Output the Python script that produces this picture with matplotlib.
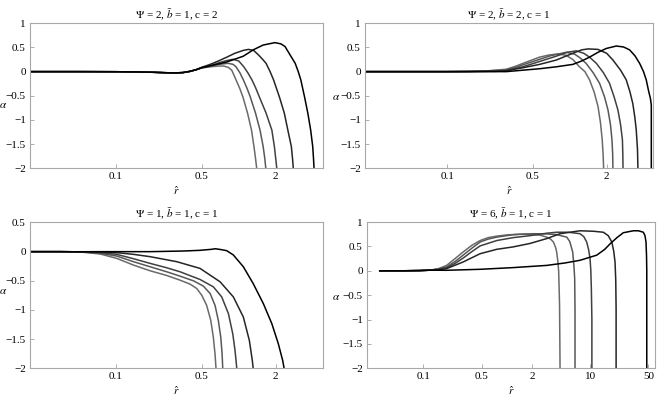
import matplotlib
matplotlib.use('Agg')
import matplotlib.pyplot as plt
from matplotlib.ticker import NullLocator

plt.rcParams['font.family'] = ['Liberation Serif', 'DejaVu Serif']
plt.rcParams['mathtext.fontset'] = 'stix'

# ---------------- data ----------------
titles = [r'$\Psi$ = 2, $\bar{b}$ = 1, c = 2',
          r'$\Psi$ = 2, $\bar{b}$ = 2, c = 1',
          r'$\Psi$ = 1, $\bar{b}$ = 1, c = 1',
          r'$\Psi$ = 6, $\bar{b}$ = 1, c = 1']

# Panel 1 (Psi=2, b=1, c=2)
p1_r0 = [0.02, 0.05, 0.1, 0.15, 0.2, 0.25, 0.3, 0.35, 0.4, 0.45]
p1_a0 = [0, 0, -0.002, -0.006, -0.013, -0.022, -0.027, -0.02, 0.005, 0.04]
p1_r = [
    [0.5, 0.585, 0.68, 0.75, 0.82, 0.877, 0.95, 1.02, 1.08, 1.18, 1.27, 1.33, 1.37, 1.40],
    [0.5, 0.585, 0.683, 0.82, 0.90, 0.95, 1.02, 1.09, 1.17, 1.24, 1.37, 1.49, 1.58, 1.63, 1.66],
    [0.5, 0.585, 0.683, 0.80, 0.90, 1.0, 1.10, 1.19, 1.28, 1.37, 1.47, 1.67, 1.86, 1.95, 2.0, 2.04],
    [0.5, 0.585, 0.683, 0.80, 0.93, 1.09, 1.2, 1.32, 1.45, 1.57, 1.67, 1.80, 1.92, 2.14, 2.35, 2.51, 2.68, 2.74, 2.78],
    [0.5, 0.585, 0.80, 1.09, 1.31, 1.58, 1.97, 2.2, 2.38, 2.62, 2.88, 3.05, 3.2, 3.43, 3.65, 3.85, 4.0, 4.06, 4.10],
]
p1_a = [
    [0.075, 0.10, 0.115, 0.117, 0.09, 0.03, -0.17, -0.35, -0.52, -0.86, -1.21, -1.55, -1.8, -2.0],
    [0.08, 0.115, 0.15, 0.172, 0.15, 0.10, -0.02, -0.17, -0.35, -0.52, -0.86, -1.21, -1.55, -1.8, -2.0],
    [0.085, 0.12, 0.18, 0.23, 0.255, 0.22, 0.10, -0.03, -0.17, -0.33, -0.52, -0.86, -1.21, -1.55, -1.8, -2.0],
    [0.09, 0.15, 0.22, 0.30, 0.38, 0.44, 0.46, 0.44, 0.344, 0.25, 0.17, 0.0, -0.17, -0.52, -0.86, -1.21, -1.55, -1.8, -2.0],
    [0.08, 0.12, 0.20, 0.32, 0.45, 0.55, 0.60, 0.575, 0.52, 0.344, 0.172, 0.0, -0.17, -0.52, -0.86, -1.21, -1.55, -1.8, -2.0],
]

# Panel 2 (Psi=2, b=2, c=1)
p2_r0 = [0.02, 0.05, 0.1, 0.15]
p2_a0 = [0, 0, 0, 0.002]
p2_r = [
    [0.2, 0.25, 0.303, 0.36, 0.414, 0.49, 0.567, 0.68, 0.80, 0.93, 1.06, 1.2, 1.33, 1.45, 1.58, 1.70, 1.78, 1.84, 1.87, 1.89],
    [0.2, 0.25, 0.303, 0.36, 0.414, 0.567, 0.70, 0.935, 1.1, 1.22, 1.36, 1.55, 1.75, 1.92, 2.05, 2.15, 2.21, 2.24, 2.25],
    [0.2, 0.25, 0.303, 0.414, 0.567, 0.776, 0.95, 1.13, 1.3, 1.45, 1.65, 1.88, 2.11, 2.3, 2.47, 2.6, 2.69, 2.71, 2.72],
    [0.25, 0.303, 0.414, 0.567, 0.776, 1.06, 1.25, 1.41, 1.7, 2.0, 2.25, 2.6, 2.89, 3.1, 3.27, 3.4, 3.49, 3.57, 3.60],
    [0.303, 0.414, 0.567, 0.776, 1.06, 1.25, 1.45, 1.7, 1.99, 2.40, 2.75, 3.08, 3.4, 3.72, 4.0, 4.21, 4.4, 4.55, 4.63, 4.63],
]
p2_a = [
    [0.012, 0.03, 0.05, 0.11, 0.17, 0.24, 0.30, 0.345, 0.365, 0.34, 0.25, 0.10, 0.0, -0.17, -0.42, -0.72, -1.05, -1.41, -1.7, -2.0],
    [0.01, 0.025, 0.035, 0.085, 0.14, 0.255, 0.33, 0.40, 0.36, 0.28, 0.17, -0.02, -0.24, -0.52, -0.79, -1.1, -1.41, -1.7, -2.0],
    [0.005, 0.012, 0.02, 0.10, 0.21, 0.32, 0.40, 0.43, 0.38, 0.30, 0.17, -0.02, -0.24, -0.52, -0.79, -1.1, -1.41, -1.7, -2.0],
    [0.005, 0.02, 0.08, 0.15, 0.24, 0.38, 0.45, 0.47, 0.46, 0.38, 0.24, 0.03, -0.17, -0.42, -0.66, -0.95, -1.21, -1.6, -2.0],
    [0.0, 0.03, 0.06, 0.10, 0.15, 0.22, 0.30, 0.40, 0.48, 0.53, 0.51, 0.45, 0.33, 0.17, 0.0, -0.17, -0.4, -0.55, -0.69, -2.0],
]

# Panel 3 (Psi=1, b=1, c=1)
p3_r0 = [0.02, 0.035, 0.045]
p3_a0 = [0, 0, -0.002]
p3_r = [
    [0.0544, 0.0745, 0.1016, 0.139, 0.19, 0.259, 0.333, 0.402, 0.455, 0.50, 0.548, 0.592, 0.621, 0.641, 0.653],
    [0.0544, 0.0745, 0.1016, 0.139, 0.19, 0.259, 0.333, 0.428, 0.515, 0.585, 0.641, 0.682, 0.714, 0.732, 0.741],
    [0.0544, 0.0745, 0.1016, 0.139, 0.19, 0.259, 0.333, 0.484, 0.621, 0.727, 0.824, 0.894, 0.933, 0.964],
    [0.0745, 0.1016, 0.139, 0.19, 0.313, 0.484, 0.705, 0.904, 1.09, 1.22, 1.29, 1.31],
    [0.0745, 0.19, 0.354, 0.484, 0.60, 0.645, 0.72, 0.798, 0.904, 1.09, 1.31, 1.585, 1.86, 2.10, 2.28, 2.34],
]
p3_a = [
    [-0.011, -0.04, -0.115, -0.23, -0.328, -0.408, -0.489, -0.557, -0.632, -0.747, -0.92, -1.178, -1.466, -1.753, -2.0],
    [-0.006, -0.029, -0.075, -0.172, -0.259, -0.345, -0.42, -0.50, -0.59, -0.718, -0.92, -1.178, -1.466, -1.753, -2.0],
    [-0.006, -0.017, -0.046, -0.121, -0.201, -0.276, -0.345, -0.477, -0.603, -0.776, -1.063, -1.408, -1.695, -2.0],
    [-0.006, -0.017, -0.046, -0.086, -0.172, -0.287, -0.517, -0.776, -1.121, -1.523, -1.868, -2.0],
    [0.0, 0.0, 0.011, 0.023, 0.04, 0.05, 0.035, 0.017, -0.057, -0.259, -0.546, -0.89, -1.236, -1.58, -1.868, -2.0],
]

# Panel 4 (Psi=6, b=1, c=1)
p4_r0 = [0.03, 0.06, 0.09, 0.12]
p4_a0 = [0, 0, 0.004, 0.012]
p4_r = [
    [0.15, 0.19, 0.24, 0.30, 0.38, 0.48, 0.6, 0.76, 1.0, 1.44, 1.9, 2.5, 3.02, 3.35, 3.63, 3.85, 3.97, 4.1, 4.2, 4.3, 4.36],
    [0.15, 0.19, 0.24, 0.30, 0.38, 0.48, 0.6, 0.76, 1.2, 2.09, 3.02, 4.0, 5.24, 5.7, 6.18, 6.4, 6.53, 6.59, 6.59],
    [0.15, 0.19, 0.24, 0.30, 0.38, 0.48, 0.76, 1.2, 1.9, 3.02, 3.97, 5.5, 7.57, 8.4, 9.1, 9.6, 9.98, 10.2, 10.35, 10.5, 10.5],
    [0.15, 0.19, 0.30, 0.48, 0.76, 1.2, 1.9, 3.02, 4.36, 7.57, 11.0, 14.4, 16.5, 18.2, 19.2, 19.9, 20.3, 20.5, 20.5],
    [0.19, 0.48, 1.2, 3.02, 5.0, 7.57, 12.0, 15.0, 17.3, 21.0, 25.0, 33.0, 38.0, 43.5, 45.5, 46.8, 47.5, 47.8, 47.8],
]
p4_a = [
    [0.04, 0.11, 0.25, 0.385, 0.52, 0.62, 0.68, 0.71, 0.735, 0.75, 0.75, 0.73, 0.69, 0.65, 0.59, 0.48, 0.385, 0.2, -0.02, -0.7, -2.0],
    [0.035, 0.078, 0.19, 0.32, 0.46, 0.59, 0.65, 0.69, 0.74, 0.76, 0.755, 0.74, 0.69, 0.6, 0.385, 0.1, -0.16, -0.8, -2.0],
    [0.03, 0.06, 0.15, 0.26, 0.39, 0.51, 0.62, 0.68, 0.72, 0.77, 0.79, 0.79, 0.76, 0.70, 0.59, 0.43, 0.25, 0.0, -0.37, -1.0, -2.0],
    [0.02, 0.044, 0.18, 0.35, 0.44, 0.49, 0.56, 0.66, 0.76, 0.82, 0.81, 0.79, 0.72, 0.59, 0.4, 0.18, -0.2, -0.8, -2.0],
    [0.01, 0.03, 0.065, 0.11, 0.16, 0.215, 0.32, 0.44, 0.55, 0.68, 0.78, 0.82, 0.82, 0.79, 0.72, 0.59, 0.3, 0.0, -2.0],
]

x_ticks_small = [0.1, 0.5, 2]
x_labels_small = ['0.1', '0.5', '2']
x_ticks_big = [0.1, 0.5, 2, 10, 50]
x_labels_big = ['0.1', '0.5', '2', '10', '50']
y_ticks_full = [1, 0.5, 0, -0.5, -1, -1.5, -2]
y_labels_full = ['1', '0.5', '0', '\u22120.5', '\u22121', '\u22121.5', '\u22122']
y_ticks_short = [0.5, 0, -0.5, -1, -1.5, -2]
y_labels_short = ['0.5', '0', '\u22120.5', '\u22121', '\u22121.5', '\u22122']

colors = ['#6a6a6a', '#585858', '#404040', '#252525', '#000000']

# ---------------- figure ----------------
W, H = 657, 397
fig = plt.figure(figsize=(W / 100, H / 100), dpi=100)


def add_axes(l, t, r, b):
    return fig.add_axes([l / W, 1 - b / H, (r - l) / W, (b - t) / H])


panels = [
    dict(box=(30, 23.3, 323, 168.3), r0=p1_r0, a0=p1_a0, r=p1_r, a=p1_a,
         xlim=(0.02, 4.85), ylim=(-2, 1), xt=x_ticks_small, xl=x_labels_small,
         yt=y_ticks_full, yl=y_labels_full, alpha_pos=(3.2, 105)),
    dict(box=(365, 23.3, 653, 168.3), r0=p2_r0, a0=p2_a0, r=p2_r, a=p2_a,
         xlim=(0.0213, 4.78), ylim=(-2, 1), xt=x_ticks_small, xl=x_labels_small,
         yt=y_ticks_full, yl=y_labels_full, alpha_pos=(336, 98)),
    dict(box=(30, 222.5, 323, 368.3), r0=p3_r0, a0=p3_a0, r=p3_r, a=p3_a,
         xlim=(0.02, 4.85), ylim=(-2, 0.5), xt=x_ticks_small, xl=x_labels_small,
         yt=y_ticks_short, yl=y_labels_short, alpha_pos=(3.2, 291)),
    dict(box=(367, 222, 655, 368.3), r0=p4_r0, a0=p4_a0, r=p4_r, a=p4_a,
         xlim=(0.0211, 60), ylim=(-2, 1), xt=x_ticks_big, xl=x_labels_big,
         yt=y_ticks_full, yl=y_labels_full, alpha_pos=(336, 297)),
]

for i, p in enumerate(panels):
    ax = add_axes(*p['box'])
    for k in range(5):
        xs = p['r0'] + p['r'][k]
        ys = p['a0'] + p['a'][k]
        ax.plot(xs, ys, color=colors[k], lw=1.1, solid_joinstyle='round')
    ax.set_xscale('log')
    ax.set_xlim(*p['xlim'])
    ax.set_ylim(*p['ylim'])
    ax.set_xticks(p['xt'])
    ax.set_xticklabels(p['xl'])
    ax.set_yticks(p['yt'])
    ax.set_yticklabels(p['yl'])
    ax.xaxis.set_minor_locator(NullLocator())
    ax.tick_params(axis='both', which='major', direction='in', length=3,
                   width=0.6, color='#a0a0a0', labelsize=8, pad=3)
    for s in ax.spines.values():
        s.set_color('#a8a8a8')
        s.set_linewidth(0.8)
    ax.set_title(titles[i], fontsize=8, pad=3)
    ax.set_xlabel(r'$\hat{r}$', fontsize=8, labelpad=2)
    fig.text(p['alpha_pos'][0] / W, 1 - p['alpha_pos'][1] / H, r'$\alpha$',
             fontsize=8, ha='center', va='center')

fig.savefig('out.png', dpi=100)
